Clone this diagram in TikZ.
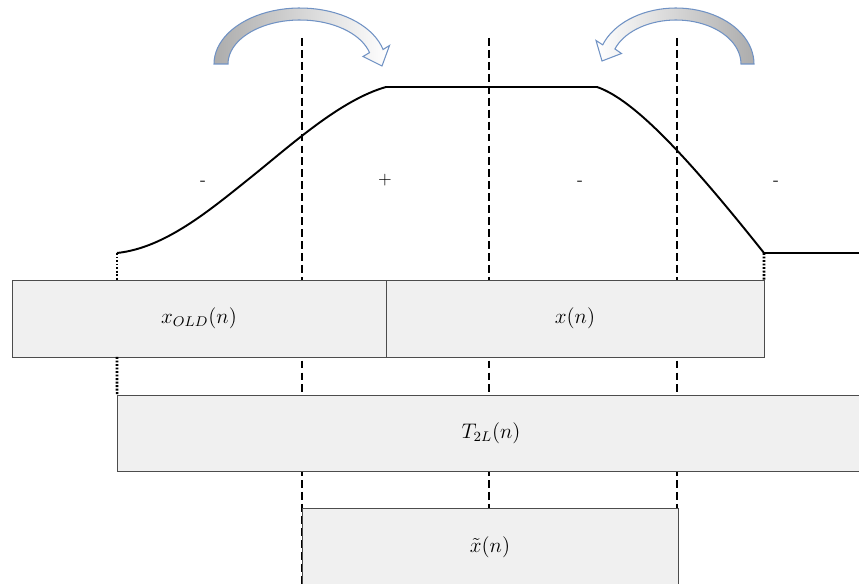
\documentclass[tikz,border=0pt]{standalone}
\usepackage{tikz}

\definecolor{boxgray}{RGB}{240,240,240}
\definecolor{arrowblue}{RGB}{112,146,196}

\tikzset{
  frame/.style={draw=black!70, line width=0.5pt, fill=boxgray, inner sep=0pt, outer sep=0pt, font=\large},
  cut/.style={line width=1.5pt, dash pattern=on 4.5pt off 2.3pt},
  guide/.style={line width=1.5pt, dash pattern=on 1.1pt off 0.9pt},
  window/.style={line width=1.1pt},
  bent/.style={draw=arrowblue, line width=0.6pt},
  sign/.style={inner sep=1pt}
}

\begin{document}
\begin{tikzpicture}[x=0.02cm, y=-0.02cm]
\useasboundingbox (0,0) rectangle (859,584);
\clip (0,0) rectangle (859,584);

% frame borders
\coordinate (b1) at (302,38);
\coordinate (b2) at (489,38);
\coordinate (b3) at (677,38);
\draw [cut] (b1) -- (302,584);
\draw [cut] (b2) -- (489,584);
\draw [cut] (b3) -- (677,584);

% window
\coordinate (w0) at (117,253);
\coordinate (w1) at (386,87);
\coordinate (w2) at (597,87);
\coordinate (w3) at (764,253);
\coordinate (w4) at (859,253);
\draw [window] (w0) .. controls (165,248) and (210,210) .. (250,178)
  .. controls (290,146) and (340,100) .. (w1) -- (w2)
  .. controls (635,100) and (690,160) .. (w3) -- (w4);

% blocks
\node [frame, minimum width=7.48cm, minimum height=1.54cm] (xold) at (199,318.5) {$x_{OLD}(n)$};
\node [frame, minimum width=7.56cm, minimum height=1.54cm] (xn) at (575,318.5) {$x(n)$};
\node [frame, minimum width=14.96cm, minimum height=1.52cm] (t2l) at (491,433) {$T_{2L}(n)$};
\node [frame, minimum width=7.52cm, minimum height=1.56cm] (xt) at (490,547) {$\tilde{x}(n)$};

\draw [guide] (w0) -- (w0 |- xold.north);
\draw [guide] (w0 |- xold.south) -- (t2l.north west);
\draw [guide] (w3) -- (xn.north east);

% signs
\node [sign] (s1) at (203,183) {-};
\node [sign] (s2) at (385,180) {+};
\node [sign] (s3) at (580,183) {-};
\node [sign] (s4) at (776,183) {-};

% folding arrows
\shade [bent, left color=gray!65, right color=white]
  plot [domain=180:345, samples=40] ({300+86*cos(\x)},{64+56*sin(\x)})
  -- (389.5,45.5) -- (382,66) -- (363,56.5)
  -- plot [domain=345:180, samples=40] ({300+72*cos(\x)},{64+44*sin(\x)}) -- cycle;
\shade [bent, left color=white, right color=gray!65]
  plot [domain=180:340, samples=40] ({676-78*cos(\x)},{64+56*sin(\x)})
  -- (596,40.5) -- (602,61) -- (621.5,53.5)
  -- plot [domain=340:180, samples=40] ({676-65*cos(\x)},{64+44*sin(\x)}) -- cycle;
\end{tikzpicture}
\end{document}
